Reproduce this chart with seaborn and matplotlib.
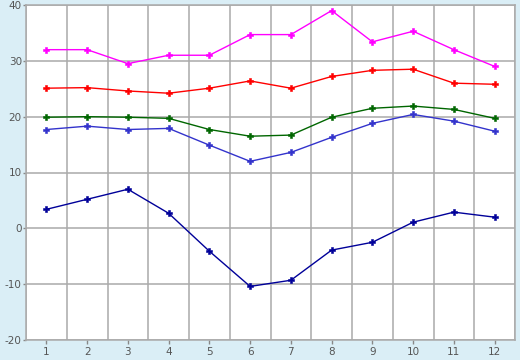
import matplotlib
matplotlib.use("Agg")
import matplotlib.pyplot as plt
import seaborn as sns
import pandas as pd
import numpy as np

months = list(range(1, 13))
s_magenta = [32.0, 32.0, 29.5, 31.0, 31.0, 34.7, 34.7, 39.0, 33.4, 35.3, 32.0, 29.0]
s_red = [25.1, 25.2, 24.6, 24.2, 25.1, 26.4, 25.1, 27.2, 28.3, 28.5, 26.0, 25.8]
s_green = [19.9, 20.0, 19.9, 19.7, 17.7, 16.5, 16.7, 19.9, 21.5, 21.9, 21.3, 19.7]
s_blue = [17.7, 18.3, 17.7, 17.9, 14.9, 12.0, 13.6, 16.3, 18.8, 20.4, 19.2, 17.4]
s_navy = [3.4, 5.2, 7.0, 2.7, -4.1, -10.4, -9.3, -3.9, -2.5, 1.1, 2.9, 2.0]
y_ticks = [-20, -10, 0, 10, 20, 30, 40]

series = {"a": s_magenta, "b": s_red, "c": s_green, "d": s_blue, "e": s_navy}
colors = {"a": "#FF00FF", "b": "#FF0000", "c": "#006600", "d": "#3333CC", "e": "#000099"}

df = pd.DataFrame(
    [(m, k, v) for k, vals in series.items() for m, v in zip(months, vals)],
    columns=["month", "series", "value"],
)

plt.rcParams["axes.unicode_minus"] = False
bg = "#DAEEF6"
fig = plt.figure(figsize=(5.2, 3.6), dpi=100, facecolor=bg)
ax = fig.add_axes([26 / 520, 1 - 340 / 360, (515 - 26) / 520, (340 - 5) / 360])
ax.set_facecolor("white")

sns.lineplot(data=df, x="month", y="value", hue="series", palette=colors,
             marker="P", markersize=4.6, markeredgewidth=0.4, linewidth=1,
             legend=False, ax=ax, zorder=3)
for ln in ax.lines:
    ln.set_markeredgecolor(ln.get_color())

ax.set_xlim(0.5, 12.5)
ax.set_ylim(-20, 40)
ax.set_xticks(months)
ax.set_xticklabels([str(m) for m in months])
ax.set_xticks(np.arange(0.5, 13, 1), minor=True)
ax.set_yticks(y_ticks)
ax.grid(False)
ax.grid(True, which="minor", axis="x", color="#AAAAAA", linewidth=1.1)
ax.grid(True, which="major", axis="y", color="#AAAAAA", linewidth=1.1)
ax.tick_params(axis="x", which="minor", length=0)
ax.tick_params(axis="both", which="major", colors="#888888", labelcolor="#555555",
               labelsize=7.5, length=3, width=1, pad=2)
ax.tick_params(axis="y", which="major", length=2, pad=1)
ax.set_xlabel("")
ax.set_ylabel("")
for sp in ax.spines.values():
    sp.set_color("#AAAAAA")
    sp.set_linewidth(1.1)

fig.savefig("out.png", dpi=100, facecolor=bg)
